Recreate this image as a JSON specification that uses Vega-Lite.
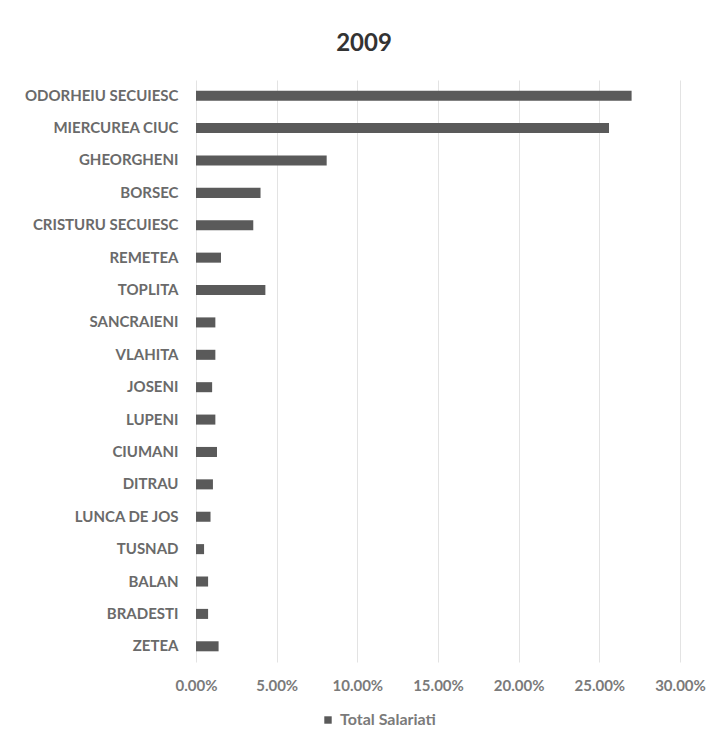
{
  "$schema": "https://vega.github.io/schema/vega-lite/v6.json",
  "width": 484,
  "height": 582,
  "autosize": "none",
  "padding": {"left": 196, "top": 80, "right": 40, "bottom": 89},
  "background": "white",
  "title": {
    "text": "2009",
    "anchor": "middle",
    "frame": "group",
    "dx": -74,
    "offset": 24,
    "fontSize": 24,
    "font": "Lato",
    "fontWeight": "bold",
    "color": "#333333"
  },
  "data": {
    "values": [
      {"loc": "ODORHEIU SECUIESC", "v": 0.270, "s": "Total Salariati"},
      {"loc": "MIERCUREA CIUC", "v": 0.256, "s": "Total Salariati"},
      {"loc": "GHEORGHENI", "v": 0.081, "s": "Total Salariati"},
      {"loc": "BORSEC", "v": 0.040, "s": "Total Salariati"},
      {"loc": "CRISTURU SECUIESC", "v": 0.0355, "s": "Total Salariati"},
      {"loc": "REMETEA", "v": 0.0155, "s": "Total Salariati"},
      {"loc": "TOPLITA", "v": 0.043, "s": "Total Salariati"},
      {"loc": "SANCRAIENI", "v": 0.012, "s": "Total Salariati"},
      {"loc": "VLAHITA", "v": 0.012, "s": "Total Salariati"},
      {"loc": "JOSENI", "v": 0.010, "s": "Total Salariati"},
      {"loc": "LUPENI", "v": 0.012, "s": "Total Salariati"},
      {"loc": "CIUMANI", "v": 0.013, "s": "Total Salariati"},
      {"loc": "DITRAU", "v": 0.0105, "s": "Total Salariati"},
      {"loc": "LUNCA DE JOS", "v": 0.009, "s": "Total Salariati"},
      {"loc": "TUSNAD", "v": 0.005, "s": "Total Salariati"},
      {"loc": "BALAN", "v": 0.0075, "s": "Total Salariati"},
      {"loc": "BRADESTI", "v": 0.0075, "s": "Total Salariati"},
      {"loc": "ZETEA", "v": 0.014, "s": "Total Salariati"}
    ]
  },
  "mark": {"type": "bar"},
  "encoding": {
    "y": {
      "field": "loc",
      "type": "nominal",
      "sort": null,
      "title": null,
      "scale": {"paddingInner": 0.69, "paddingOuter": 0.33},
      "axis": {
        "ticks": false,
        "domain": false,
        "labelPadding": 18,
        "labelFont": "Lato",
        "labelFontSize": 15,
        "labelFontWeight": "bold",
        "labelColor": "#6a6a6a",
        "labelLimit": 300
      }
    },
    "x": {
      "field": "v",
      "type": "quantitative",
      "title": null,
      "scale": {"domain": [0, 0.3], "nice": false},
      "axis": {
        "format": ".2%",
        "values": [0, 0.05, 0.1, 0.15, 0.2, 0.25, 0.3],
        "ticks": false,
        "domain": false,
        "grid": true,
        "gridColor": "#e3e3e3",
        "labelFlush": false,
        "labelOverlap": false,
        "labelPadding": 16,
        "labelFont": "Lato",
        "labelFontSize": 15,
        "labelFontWeight": "bold",
        "labelColor": "#7a7a7a"
      }
    },
    "color": {
      "field": "s",
      "type": "nominal",
      "scale": {"domain": ["Total Salariati"], "range": ["#5a5a5a"]},
      "legend": {
        "title": null,
        "orient": "none",
        "legendX": 124,
        "legendY": 632,
        "symbolType": "square",
        "symbolSize": 55,
        "labelOffset": 4,
        "labelFont": "Lato",
        "labelFontSize": 16,
        "labelFontWeight": "bold",
        "labelColor": "#7a7a7a"
      }
    }
  },
  "config": {
    "view": {"stroke": null}
  }
}
